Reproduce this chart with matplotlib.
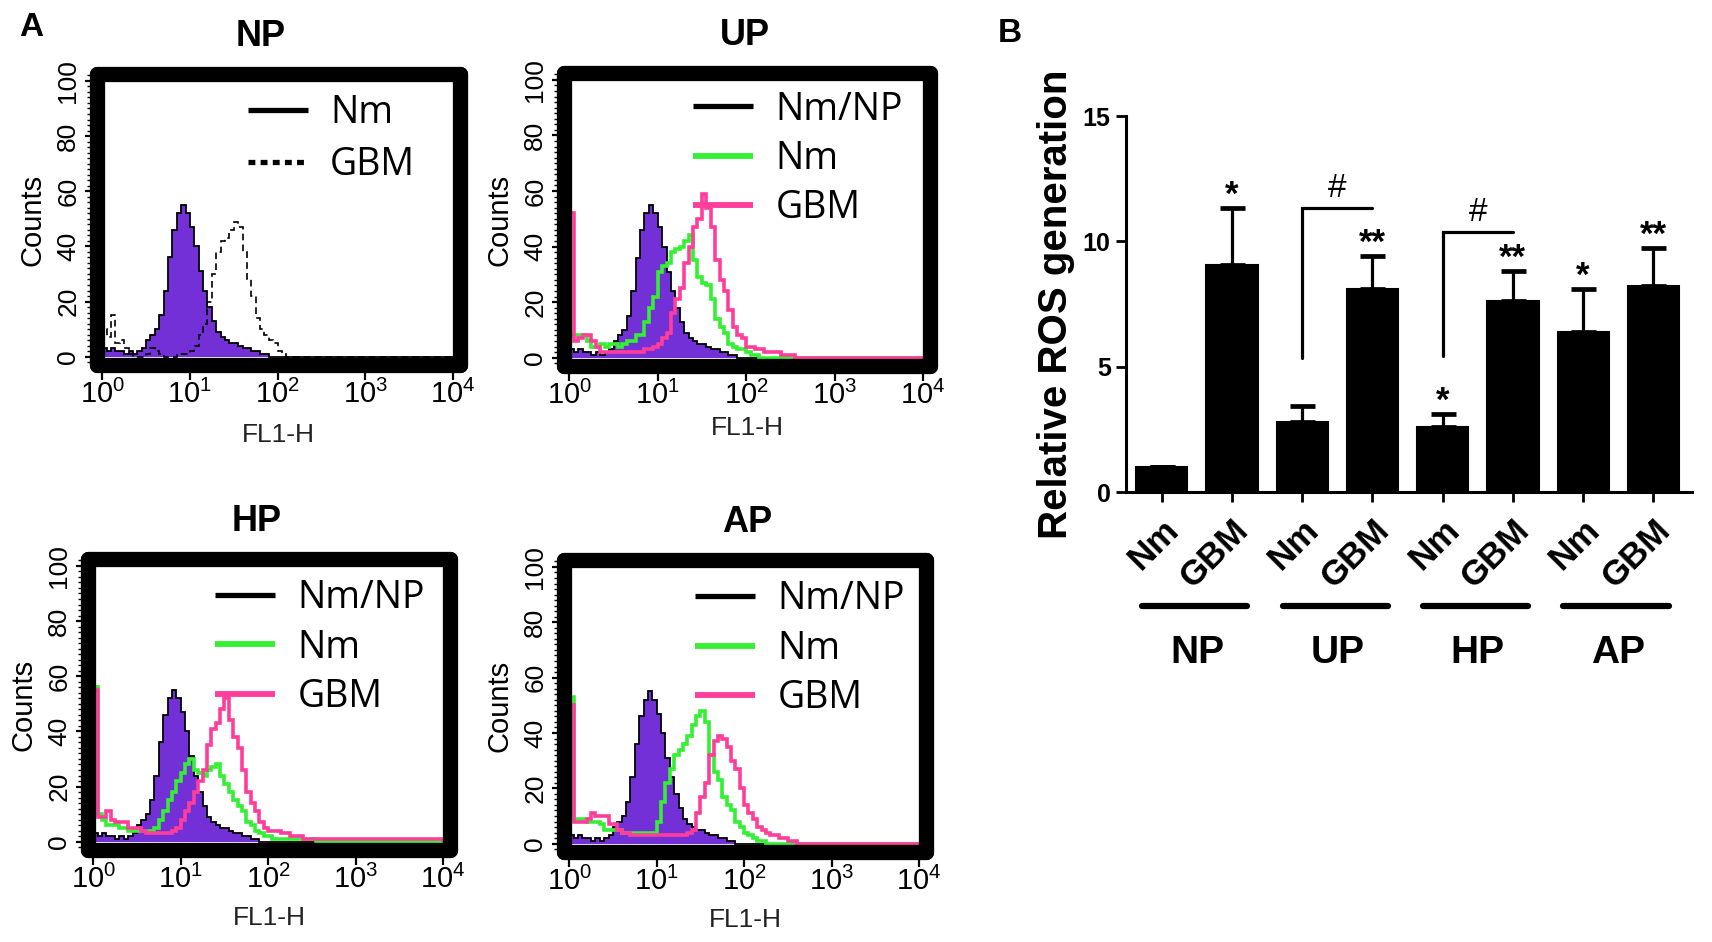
import numpy as np
import matplotlib
matplotlib.use('Agg')
import matplotlib.pyplot as plt
import matplotlib.transforms as mtransforms
from matplotlib.lines import Line2D
from matplotlib.ticker import MultipleLocator, LogLocator, NullFormatter, FixedLocator

plt.rcParams['font.family'] = ['Liberation Sans', 'DejaVu Sans']
plt.rcParams['mathtext.fontset'] = 'custom'
plt.rcParams['mathtext.rm'] = 'Liberation Sans'
plt.rcParams['mathtext.it'] = 'Liberation Sans:italic'
plt.rcParams['mathtext.bf'] = 'Liberation Sans:bold'

# ---------------- flow histograms (counts per 0.05 decade channel of FL1-H,
# the last channel runs from 10^2.6 to 10^4)
log_edges = np.append(np.linspace(0, 2.6, 53), 4.0)

ctrl_counts = [3, 2, 3, 2, 2, 1, 2, 1, 2, 3, 6, 8, 10, 15, 24, 36, 46, 52, 55, 52,
               47, 40, 31, 24, 18, 13, 9, 7, 6, 5, 5, 4, 3, 3, 2, 2, 1, 1,
               0, 0, 0, 0, 0, 0, 0, 0, 0, 0, 0, 0, 0, 0, 0]
np_gbm = [10, 7, 15, 5, 6, 3, 1, 0, 0, 0, 1, 3, 2, 1, 0, 0, 0, 1, 1, 1,
          2, 4, 8, 12, 20, 30, 38, 42, 43, 46, 49, 47, 38, 28, 22, 14, 10, 8, 6, 5,
          2, 1, 0, 0, 0, 0, 0, 0, 0, 0, 0, 0, 0]
up_nm = [8, 8, 8, 8, 6, 4, 4, 5, 4, 5, 5, 4, 5, 6, 6, 8, 8, 13, 18, 22,
         31, 33, 34, 38, 39, 40, 42, 44, 35, 29, 27, 26, 21, 14, 11, 9, 5, 4, 3, 3,
         2, 1, 1, 0, 0, 0, 0, 0, 0, 0, 0, 0, 0]
up_gbm = [52, 6, 7, 8, 8, 6, 4, 2, 2, 2, 2, 2, 2, 2, 2, 2, 2, 3, 3, 4,
          5, 7, 9, 16, 21, 25, 34, 40, 47, 50, 59, 54, 47, 35, 28, 24, 17, 11, 8, 7,
          4, 4, 3, 3, 2, 2, 2, 2, 1, 1, 1, 0, 0]
hp_nm = [56, 10, 8, 6, 6, 6, 5, 5, 4, 4, 4, 4, 4, 4, 5, 8, 11, 15, 18, 22,
         25, 28, 30, 26, 25, 24, 26, 27, 28, 24, 21, 18, 15, 13, 11, 7, 6, 4, 3, 2,
         2, 1, 1, 1, 1, 1, 1, 1, 1, 1, 1, 0, 0]
hp_gbm = [55, 9, 9, 11, 8, 7, 7, 7, 5, 5, 5, 4, 3, 3, 3, 3, 3, 3, 4, 5,
          8, 11, 14, 18, 22, 26, 35, 41, 43, 48, 52, 44, 38, 34, 26, 18, 14, 11, 7, 5,
          4, 4, 4, 3, 3, 2, 2, 2, 1, 1, 1, 1, 1]
ap_nm = [53, 9, 9, 9, 8, 8, 8, 7, 5, 5, 5, 5, 4, 4, 4, 4, 4, 4, 4, 4,
         8, 15, 22, 27, 32, 34, 36, 39, 43, 46, 48, 44, 32, 26, 23, 17, 14, 12, 8, 6,
         4, 3, 2, 1, 1, 0, 0, 0, 0, 0, 0, 0, 0]
ap_gbm = [50, 8, 8, 8, 9, 11, 10, 10, 10, 7, 7, 5, 4, 4, 3, 3, 3, 3, 3, 3,
          3, 3, 3, 3, 3, 3, 3, 4, 5, 11, 17, 22, 32, 37, 39, 38, 35, 30, 27, 20,
          14, 11, 9, 6, 5, 4, 3, 3, 2, 2, 1, 1, 0]

# ---------------- ROS bar chart
groups = ['NP', 'UP', 'HP', 'AP']
cell_labels = ['Nm', 'GBM', 'Nm', 'GBM', 'Nm', 'GBM', 'Nm', 'GBM']
ros_mean = [1.0, 9.05, 2.78, 8.1, 2.6, 7.62, 6.38, 8.22]
ros_err = [0.0, 2.28, 0.65, 1.31, 0.51, 1.2, 1.72, 1.51]
star_marks = ['', '*', '', '**', '*', '**', '*', '**']
bracket_pairs = [(2, 3), (4, 5)]
bracket_low = [5.35, 5.42]
bracket_high = [11.33, 10.37]

purple = '#7330d6'
green = '#33f033'
pink = '#ff3d9a'

W, H = 1712, 942
fig = plt.figure(figsize=(W / 100, H / 100), dpi=100)


def px_axes(l, t, r, b):
    return fig.add_axes([l / W, 1 - b / H, (r - l) / W, (b - t) / H])


edges = 10 ** log_edges


def flow_panel(ax, title, title_x, lines, labels, anchor, spacing, xlab_pad):
    ax.stairs(ctrl_counts, edges, fill=True, color=purple, baseline=0, zorder=1)
    ax.stairs(ctrl_counts, edges, color='k', lw=1.3, zorder=2)
    handles = [Line2D([], [], color='k', lw=3.8, solid_capstyle='butt')]
    for vals, col, ls, lw in lines:
        ax.stairs(vals, edges, color=col, lw=lw, linestyle=ls, zorder=3)
        if ls == '-':
            handles.append(Line2D([], [], color=col, lw=4.2, solid_capstyle='butt'))
        else:
            handles.append(Line2D([], [], color=col, lw=3.8, linestyle=(0, (1.3, 1.0)),
                                  dash_capstyle='butt'))
    ax.set_xscale('log')
    ax.set_xlim(10 ** -0.06, 10 ** 4.08)
    ax.set_ylim(-3, 102.5)
    for sp in ax.spines.values():
        sp.set_linewidth(11)
        sp.set_capstyle('round')
        sp.set_joinstyle('round')
        sp.set_zorder(5)
    ax.xaxis.set_major_locator(FixedLocator([1, 10, 100, 1000, 10000]))
    ax.set_xticklabels([r'$10^{%d}$' % k for k in range(5)])
    ax.xaxis.set_minor_locator(LogLocator(base=10, subs=np.arange(2, 10)))
    ax.xaxis.set_minor_formatter(NullFormatter())
    ax.yaxis.set_major_locator(MultipleLocator(20))
    ax.yaxis.set_minor_locator(MultipleLocator(2))
    ax.tick_params(axis='x', which='major', length=11, width=1.6, labelsize=21, pad=0,
                   direction='out')
    ax.tick_params(axis='x', which='minor', length=8.5, width=1.4, direction='out')
    ax.tick_params(axis='y', which='major', length=9, width=1.6, labelsize=19, pad=3,
                   direction='out', labelrotation=90)
    ax.tick_params(axis='y', which='minor', length=7, width=1.0, direction='out')
    for lb in ax.get_yticklabels():
        lb.set_va('center')
    ax.set_ylabel('Counts', fontsize=21, labelpad=7)
    ax.set_xlabel('FL1-H', fontsize=19, color='#222222', labelpad=xlab_pad)
    ax.set_title(title, fontsize=26, fontweight='bold', x=title_x, pad=20)
    leg = ax.legend(handles, labels, loc='upper left', bbox_to_anchor=anchor,
                    frameon=False, handlelength=1.6, handletextpad=0.6,
                    labelspacing=spacing, borderpad=0, borderaxespad=0,
                    prop={'family': ['Open Sans', 'DejaVu Sans'], 'size': 27})
    leg.set_zorder(6)


ax_np = px_axes(97, 74, 460, 365)
flow_panel(ax_np, 'NP', 0.45, [(np_gbm, 'k', (0, (4, 2.5)), 1.2)],
           ['Nm', 'GBM'], (0.415, 0.93), 0.36, 10)
ax_up = px_axes(564, 73, 930, 366)
flow_panel(ax_up, 'UP', 0.495, [(up_nm, green, '-', 2.6), (up_gbm, pink, '-', 2.6)],
           ['Nm/NP', 'Nm', 'GBM'], (0.352, 0.94), 0.3, 4)
ax_hp = px_axes(88, 559, 450, 850)
flow_panel(ax_hp, 'HP', 0.467, [(hp_nm, green, '-', 2.6), (hp_gbm, pink, '-', 2.6)],
           ['Nm/NP', 'Nm', 'GBM'], (0.351, 0.93), 0.3, 8)
ax_ap = px_axes(564, 560, 926, 852)
flow_panel(ax_ap, 'AP', 0.506, [(ap_nm, green, '-', 2.6), (ap_gbm, pink, '-', 2.6)],
           ['Nm/NP', 'Nm', 'GBM'], (0.362, 0.93), 0.3, 8)

# ---------------- panel B
ax = px_axes(1126, 116, 1692, 492)
x = np.arange(len(ros_mean))
ax.bar(x, ros_mean, width=0.73, color='k', edgecolor='k', linewidth=1.5)
ax.errorbar(x, ros_mean, yerr=[np.zeros(len(ros_err)), ros_err], fmt='none', ecolor='k',
            elinewidth=2.3, capsize=9, capthick=3.4)
for xi, m, e, s in zip(x, ros_mean, ros_err, star_marks):
    if s:
        ax.text(xi, m + e + 0.12, s, ha='center', va='baseline', fontsize=25,
                fontweight='bold')
for (a, b), lo, hi in zip(bracket_pairs, bracket_low, bracket_high):
    ax.plot([a, a, b], [lo, hi, hi], color='k', lw=2.3, solid_capstyle='round',
            solid_joinstyle='miter', clip_on=False)
    ax.text((a + b) / 2, hi + 0.45, '#', ha='center', va='baseline', fontsize=24)

ax.set_xlim(-0.51, 7.55)
ax.set_ylim(0, 15)
ax.spines['top'].set_visible(False)
ax.spines['right'].set_visible(False)
ax.spines['left'].set_linewidth(2.2)
ax.spines['bottom'].set_linewidth(2.2)
ax.set_yticks([0, 5, 10, 15])
ax.set_xticks(x)
ax.set_xticklabels(cell_labels, rotation=45, ha='right', rotation_mode='anchor',
                   fontsize=25, fontweight='bold')
ax.tick_params(axis='x', length=7, width=2, pad=8)
ax.tick_params(axis='y', length=7, width=2, labelsize=18, pad=4)
for lb in ax.get_yticklabels():
    lb.set_fontweight('bold')
ax.set_ylabel('Relative ROS generation', fontsize=29, fontweight='bold', labelpad=6)

blend = mtransforms.blended_transform_factory(ax.transData, ax.transAxes)
for gi, g in enumerate(groups):
    c = 2 * gi + 0.5
    ax.plot([c - 0.78, c + 0.72], [-0.303, -0.303], transform=blend, color='k', lw=4.5,
            solid_capstyle='round', clip_on=False)
    ax.text(c, -0.428, g, transform=blend, ha='center', va='center', fontsize=28,
            fontweight='bold')

fig.text(31 / W, 1 - 27 / H, 'A', fontsize=24, fontweight='bold', ha='center', va='center')
fig.text(1010 / W, 1 - 33 / H, 'B', fontsize=24, fontweight='bold', ha='center', va='center')

fig.savefig('out.png', dpi=100)
